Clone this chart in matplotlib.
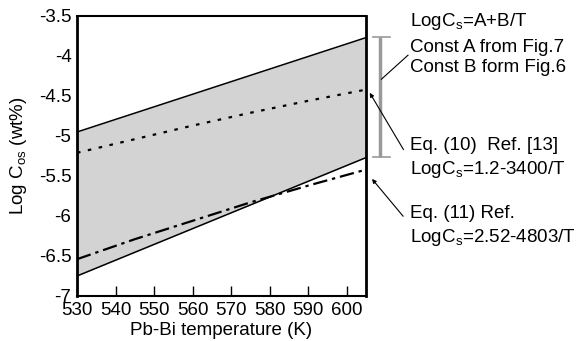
import matplotlib
matplotlib.use("Agg")
import matplotlib.pyplot as plt
import numpy as np

plt.rcParams['font.family'] = ['Liberation Sans', 'DejaVu Sans']

# Data
temp_band = [530, 605]
upper_band = [-4.95, -3.77]
lower_band = [-6.75, -5.27]
temp_eq = [530, 545, 560, 575, 590, 605]
eq10 = [-5.21, -5.04, -4.87, -4.71, -4.56, -4.42]
eq11 = [-6.54, -6.29, -6.06, -5.83, -5.62, -5.42]
xticks = [530, 540, 550, 560, 570, 580, 590, 600]
yticks = [-7, -6.5, -6, -5.5, -5, -4.5, -4, -3.5]
ytick_labels = ['-7', '-6.5', '-6', '-5.5', '-5', '-4.5', '-4', '-3.5']

fig = plt.figure(figsize=(5.76, 3.41), dpi=100)
ax = fig.add_axes([77/576, 1-296/341, 289/576, 280/341])

ax.fill_between(temp_band, lower_band, upper_band, color='#d3d3d3', lw=0)
ax.plot(temp_band, upper_band, color='black', lw=1.1)
ax.plot(temp_band, lower_band, color='black', lw=1.1)
ax.plot(temp_eq, eq10, color='black', lw=1.6, dashes=(1.6, 3.4))
ax.plot(temp_eq, eq11, color='black', lw=1.6, dashes=(6.5, 2.2, 1.5, 2.2))

fs = 13.5
ax.set_xlim(530, 605)
ax.set_ylim(-7, -3.5)
ax.set_xticks(xticks)
ax.set_yticks(yticks)
ax.set_yticklabels(ytick_labels)
ax.tick_params(axis='x', direction='in', length=7, width=1, labelsize=fs, pad=4.5)
ax.tick_params(axis='y', length=0, labelsize=fs, pad=4)
for s in ['top', 'bottom']:
    ax.spines[s].set_linewidth(1.5)
ax.spines['left'].set_linewidth(2)
ax.spines['right'].set_linewidth(2)
ax.set_xlabel('Pb-Bi temperature (K)', fontsize=fs, labelpad=2)
ax.set_ylabel(r'Log C$_\mathregular{os}$ (wt%)', fontsize=fs, labelpad=7)

# Bracket (I-beam)
bx = 608.6
ax.plot([bx, bx], [-3.7625, -5.2625], color='#999999', lw=2.5, clip_on=False, solid_capstyle='butt')
for yy in [-3.7625, -5.2625]:
    ax.plot([606.8, 611.2], [yy, yy], color='#999999', lw=1.2, clip_on=False)

tx = 616.5
texts = [
    (-3.5625, r'LogC$_\mathregular{s}$=A+B/T'),
    (-3.8875, 'Const A from Fig.7'),
    (-4.15, 'Const B form Fig.6'),
    (-5.1125, 'Eq. (10)  Ref. [13]'),
    (-5.425, r'LogC$_\mathregular{s}$=1.2-3400/T'),
    (-5.9625, 'Eq. (11) Ref.'),
    (-6.275, r'LogC$_\mathregular{s}$=2.52-4803/T'),
]
for yy, t in texts:
    ax.text(tx, yy, t, fontsize=fs, ha='left', va='center', clip_on=False)

ax.plot([615.9, 609.0], [-3.99, -4.29], color='black', lw=0.8, clip_on=False)
ax.annotate('', xy=(605.6, -4.43), xytext=(615.1, -5.2), annotation_clip=False,
            arrowprops=dict(arrowstyle='-|>', color='black', lw=0.8, mutation_scale=6))
ax.annotate('', xy=(606.1, -5.51), xytext=(615.1, -6.03), annotation_clip=False,
            arrowprops=dict(arrowstyle='-|>', color='black', lw=0.8, mutation_scale=6))

fig.savefig('out.png', dpi=100)
